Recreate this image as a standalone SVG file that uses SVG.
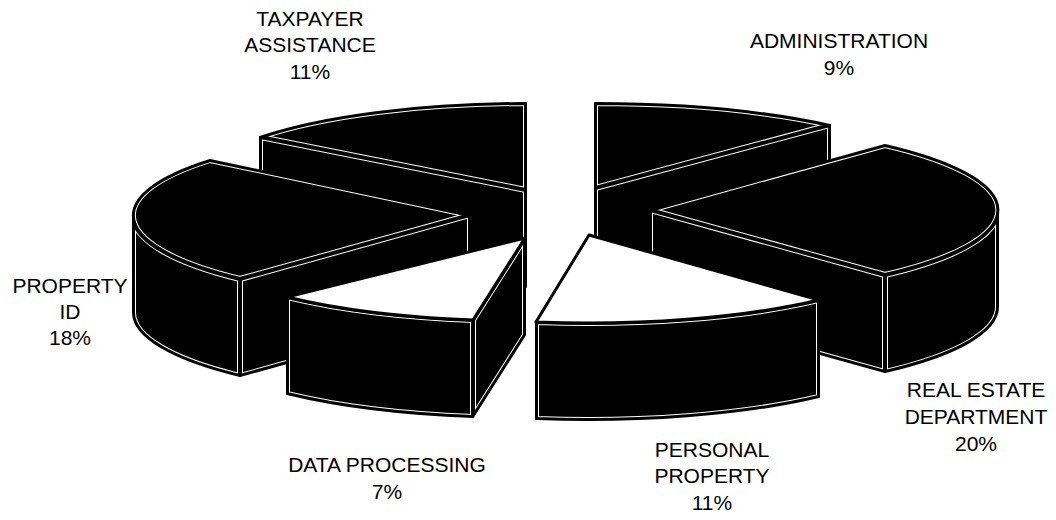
<svg xmlns="http://www.w3.org/2000/svg" xmlns:xlink="http://www.w3.org/1999/xlink" width="1056" height="520" viewBox="0 0 1056 520">
  <style>
    .label { font-family: "Liberation Sans", Arial, sans-serif; font-size: 21px; fill: #000; text-anchor: middle; }
    .hl-a { fill: #000; stroke: #fff; stroke-width: 6; }
    .hl-b { fill: none; stroke: #000; stroke-width: 4; }
    .edge { fill: none; stroke: #000; stroke-width: 2; stroke-linejoin: round; }
    .lit { fill: #fff; stroke: #000; stroke-width: 3; stroke-linejoin: round; }
  </style>
  <defs>
    <!-- TAXPAYER ASSISTANCE -->
    <path id="tp-side" d="M260,137 L526,190 L526,287 L260,234 Z"/>
    <path id="tp-top" d="M526,190 L526,103 A337,87 0 0 0 260,137 Z"/>
    <!-- ADMINISTRATION -->
    <path id="ad-side" d="M595,188 L830,125 L830,222 L595,285 Z"/>
    <path id="ad-top" d="M595,188 L595,103 A350,85 0 0 1 830,125 Z"/>
    <!-- PROPERTY ID -->
    <path id="pi-wall" d="M133,215 A337,87 0 0 0 240,279 L240,376 A337,87 0 0 1 133,312 Z"/>
    <path id="pi-side" d="M240,279 L470,215 L470,312 L240,376 Z"/>
    <path id="pi-top" d="M470,215 L210,160 A337,87 0 0 0 240,279 Z"/>
    <!-- REAL ESTATE DEPARTMENT -->
    <path id="re-wall" d="M998,210 A348,88 0 0 1 885,275 L885,372 A348,88 0 0 0 998,307 Z"/>
    <path id="re-side" d="M650,210 L885,275 L885,372 L650,307 Z"/>
    <path id="re-top" d="M650,210 L885,145 A348,88 0 0 1 885,275 Z"/>
    <!-- DATA PROCESSING -->
    <path id="dp-wall" d="M287,297 A336,83 0 0 0 473,320 L473,417 A336,83 0 0 1 287,394 Z"/>
    <path id="dp-side" d="M525,238 L473,320 L473,417 L525,335 Z"/>
    <path id="dp-top" d="M525,238 L287,297 A336,83 0 0 0 473,320 Z"/>
    <!-- PERSONAL PROPERTY -->
    <path id="pp-wall" d="M536,322 A341,88 0 0 0 819,300 L819,397 A341,88 0 0 1 536,419 Z"/>
    <path id="pp-top" d="M589,235 L536,322 A341,88 0 0 0 819,300 Z"/>

    <clipPath id="c-tp-side"><use xlink:href="#tp-side"/></clipPath>
    <clipPath id="c-tp-top"><use xlink:href="#tp-top"/></clipPath>
    <clipPath id="c-ad-side"><use xlink:href="#ad-side"/></clipPath>
    <clipPath id="c-ad-top"><use xlink:href="#ad-top"/></clipPath>
    <clipPath id="c-pi-wall"><use xlink:href="#pi-wall"/></clipPath>
    <clipPath id="c-pi-side"><use xlink:href="#pi-side"/></clipPath>
    <clipPath id="c-pi-top"><use xlink:href="#pi-top"/></clipPath>
    <clipPath id="c-re-wall"><use xlink:href="#re-wall"/></clipPath>
    <clipPath id="c-re-side"><use xlink:href="#re-side"/></clipPath>
    <clipPath id="c-re-top"><use xlink:href="#re-top"/></clipPath>
    <clipPath id="c-dp-wall"><use xlink:href="#dp-wall"/></clipPath>
    <clipPath id="c-dp-side"><use xlink:href="#dp-side"/></clipPath>
    <clipPath id="c-pp-wall"><use xlink:href="#pp-wall"/></clipPath>
  </defs>

  <rect width="1056" height="520" fill="#fff"/>

  <!-- each dark face: black fill, thin white line just inside its outline, black outline -->
  <g id="taxpayer-assistance">
    <g clip-path="url(#c-tp-side)"><use xlink:href="#tp-side" class="hl-a"/><use xlink:href="#tp-side" class="hl-b"/></g>
    <use xlink:href="#tp-side" class="edge"/>
    <g clip-path="url(#c-tp-top)"><use xlink:href="#tp-top" class="hl-a"/><use xlink:href="#tp-top" class="hl-b"/></g>
    <use xlink:href="#tp-top" class="edge"/>
    <text class="label"><tspan x="310" y="26">TAXPAYER</tspan><tspan x="310" y="52">ASSISTANCE</tspan><tspan x="310" y="79">11%</tspan></text>
  </g>

  <g id="administration">
    <g clip-path="url(#c-ad-side)"><use xlink:href="#ad-side" class="hl-a"/><use xlink:href="#ad-side" class="hl-b"/></g>
    <use xlink:href="#ad-side" class="edge"/>
    <g clip-path="url(#c-ad-top)"><use xlink:href="#ad-top" class="hl-a"/><use xlink:href="#ad-top" class="hl-b"/></g>
    <use xlink:href="#ad-top" class="edge"/>
    <text class="label"><tspan x="839" y="48">ADMINISTRATION</tspan><tspan x="839" y="75">9%</tspan></text>
  </g>

  <g id="property-id">
    <g clip-path="url(#c-pi-wall)"><use xlink:href="#pi-wall" class="hl-a"/><use xlink:href="#pi-wall" class="hl-b"/></g>
    <use xlink:href="#pi-wall" class="edge"/>
    <g clip-path="url(#c-pi-side)"><use xlink:href="#pi-side" class="hl-a"/><use xlink:href="#pi-side" class="hl-b"/></g>
    <use xlink:href="#pi-side" class="edge"/>
    <g clip-path="url(#c-pi-top)"><use xlink:href="#pi-top" class="hl-a"/><use xlink:href="#pi-top" class="hl-b"/></g>
    <use xlink:href="#pi-top" class="edge"/>
    <text class="label"><tspan x="70" y="293">PROPERTY</tspan><tspan x="70" y="319">ID</tspan><tspan x="70" y="345">18%</tspan></text>
  </g>

  <g id="real-estate-department">
    <g clip-path="url(#c-re-wall)"><use xlink:href="#re-wall" class="hl-a"/><use xlink:href="#re-wall" class="hl-b"/></g>
    <use xlink:href="#re-wall" class="edge"/>
    <g clip-path="url(#c-re-side)"><use xlink:href="#re-side" class="hl-a"/><use xlink:href="#re-side" class="hl-b"/></g>
    <use xlink:href="#re-side" class="edge"/>
    <g clip-path="url(#c-re-top)"><use xlink:href="#re-top" class="hl-a"/><use xlink:href="#re-top" class="hl-b"/></g>
    <use xlink:href="#re-top" class="edge"/>
    <text class="label"><tspan x="976" y="397">REAL ESTATE</tspan><tspan x="976" y="424">DEPARTMENT</tspan><tspan x="976" y="451">20%</tspan></text>
  </g>

  <g id="data-processing">
    <g clip-path="url(#c-dp-wall)"><use xlink:href="#dp-wall" class="hl-a"/><use xlink:href="#dp-wall" class="hl-b"/></g>
    <use xlink:href="#dp-wall" class="edge"/>
    <g clip-path="url(#c-dp-side)"><use xlink:href="#dp-side" class="hl-a"/><use xlink:href="#dp-side" class="hl-b"/></g>
    <use xlink:href="#dp-side" class="edge"/>
    <use xlink:href="#dp-top" class="lit"/>
    <text class="label"><tspan x="387" y="472">DATA PROCESSING</tspan><tspan x="387" y="499">7%</tspan></text>
  </g>

  <g id="personal-property">
    <g clip-path="url(#c-pp-wall)"><use xlink:href="#pp-wall" class="hl-a"/><use xlink:href="#pp-wall" class="hl-b"/></g>
    <use xlink:href="#pp-wall" class="edge"/>
    <use xlink:href="#pp-top" class="lit"/>
    <text class="label"><tspan x="712" y="457">PERSONAL</tspan><tspan x="712" y="483">PROPERTY</tspan><tspan x="712" y="510">11%</tspan></text>
  </g>
</svg>
